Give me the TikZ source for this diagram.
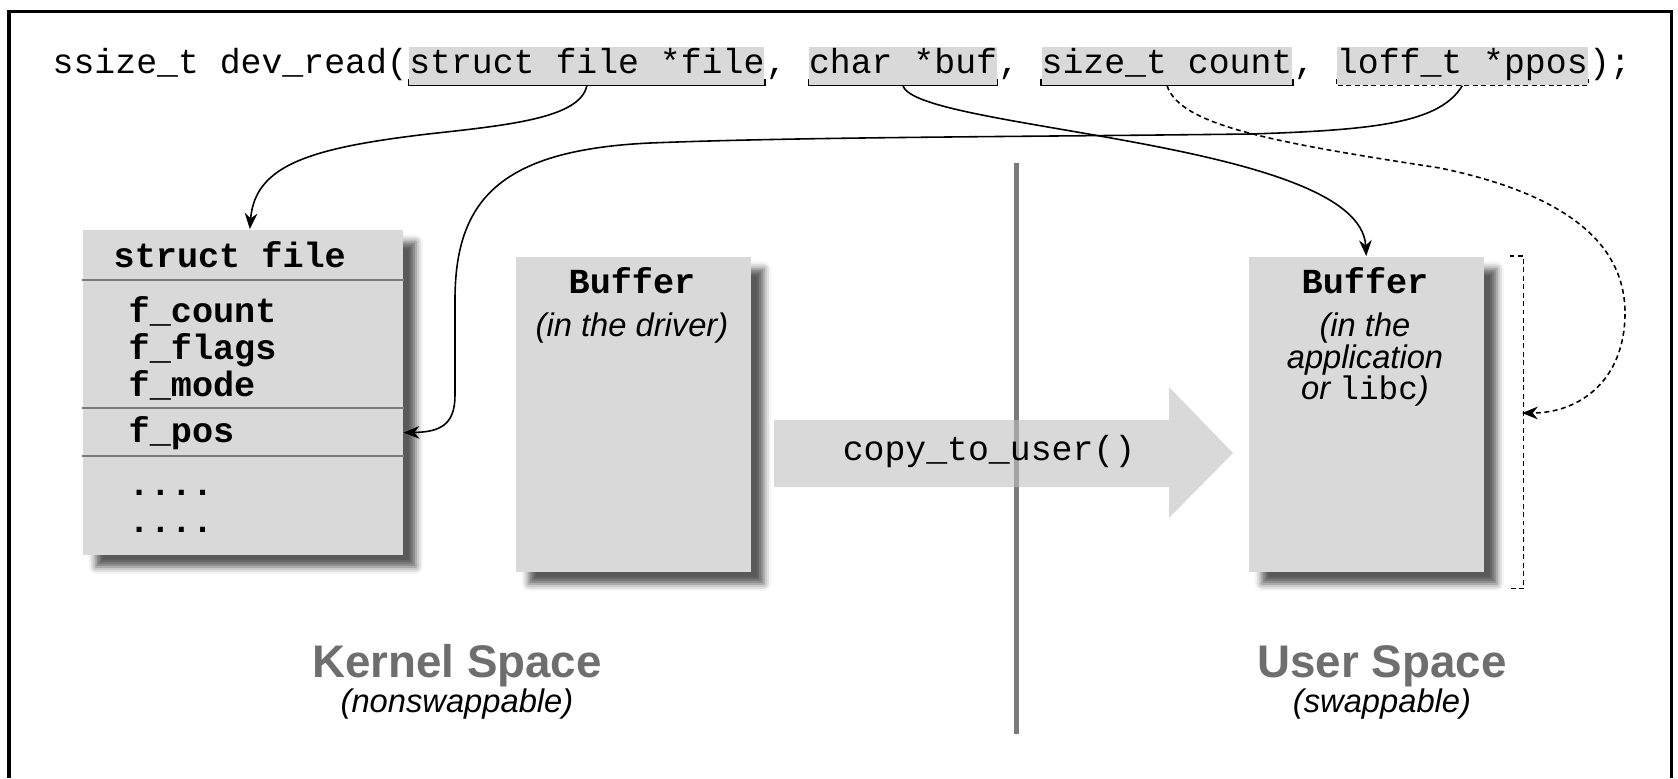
\documentclass[tikz,border=0pt]{standalone}
\usepackage{fontspec}
\setmainfont{Liberation Sans}
\setmonofont{Liberation Mono}
\usetikzlibrary{positioning, arrows.meta, shadows.blur}

\definecolor{boxgray}{RGB}{217,217,217}
\definecolor{linegray}{RGB}{122,122,122}
\definecolor{labelgray}{RGB}{110,110,110}
\definecolor{arrowgray}{RGB}{191,191,191}

\begin{document}
\begin{tikzpicture}[
    x=0.01cm, y=-0.01cm,
    code/.style={font=\fontsize{9.9}{12}\selectfont\ttfamily, inner sep=0pt},
    param/.style={code, fill=boxgray, text height=7.4pt, text depth=3.4pt},
    field/.style={font=\fontsize{10}{12}\selectfont\ttfamily\bfseries, inner sep=0pt},
    membox/.style={rectangle, fill=boxgray, inner sep=0pt,
      blur shadow={shadow xshift=0.13cm, shadow yshift=-0.12cm,
      shadow blur radius=0.07cm, shadow opacity=65}},
    bufnote/.style={font=\fontsize{9.3}{9}\selectfont\itshape, inner sep=0pt, align=center},
    spacelabel/.style={font=\fontsize{13}{15}\selectfont\bfseries, text=labelgray, inner sep=0pt},
    spacenote/.style={font=\fontsize{9.3}{11}\selectfont\itshape, inner sep=0pt},
    sepline/.style={draw=linegray, line width=0.027cm},
    tick/.style={line width=0.4pt},
    fine dash/.style={dash pattern=on 1.4pt off 1pt},
    arrow/.style={line width=0.45pt, -{Stealth[length=4.5pt, width=3.6pt]}}
]
\useasboundingbox (0,0) rectangle (1678,778);

% Frame
\draw[line width=0.03cm] (9,778) |- (1671,11) -- (1671,778);

% Signature line
\node[code, anchor=base west] (sig) at (52,73) {ssize\_t dev\_read(};
\node[param, base right=0pt of sig] (pfile) {struct file *file};
\node[code, base right=0pt of pfile] (c1) {,};
\node[param, base right=5.94pt of c1] (pbuf) {char *buf};
\node[code, base right=0pt of pbuf] (c2) {,};
\node[param, base right=5.94pt of c2] (pcount) {size\_t count};
\node[code, base right=0pt of pcount] (c3) {,};
\node[param, base right=5.94pt of c3] (pppos) {loff\_t *ppos};
\node[code, base right=0pt of pppos] (close) {);};

\foreach \p in {pfile, pbuf, pcount}
  \draw[tick] ([yshift=0.07cm]\p.south west) -- (\p.south west)
    -- (\p.south east) -- ([yshift=0.07cm]\p.south east);
\draw[tick, fine dash] ([yshift=0.07cm]pppos.south west) -- (pppos.south west)
    -- (pppos.south east) -- ([yshift=0.07cm]pppos.south east);

% Kernel / user divider and copy arrow
\draw[draw=linegray, line width=0.05cm] (1016,163) -- (1016,734);
\fill[arrowgray, fill opacity=0.6] (774,420) -- (1169,420) -- (1169,387) -- (1233,453)
    -- (1169,518) -- (1169,487) -- (774,487) -- cycle;
\node[code, anchor=base] (copylabel) at (989,460) {copy\_to\_user()};

% struct file
\node[membox, anchor=north west, minimum width=3.2cm, minimum height=3.25cm]
    (structbox) at (82,229) {};
\node[field, anchor=base west] (shead) at (113,267) {struct file};
\draw[sepline] ([yshift=-0.51cm]structbox.north west) -- ([yshift=-0.51cm]structbox.north east);
\draw[sepline] ([yshift=-1.79cm]structbox.north west) -- ([yshift=-1.79cm]structbox.north east);
\draw[sepline] ([yshift=-2.27cm]structbox.north west) -- ([yshift=-2.27cm]structbox.north east);
\foreach \fld [count=\i] in {f\_count, f\_flags, f\_mode}
  \node[field, anchor=base west] (fld\i) at (128, 285+37*\i) {\fld};
\node[field, anchor=base west] (fpos) at (128,442) {f\_pos};
\node[field, anchor=base west] (dots1) at (128,495) {....};
\node[field, anchor=base west] (dots2) at (128,532) {....};

% Buffers
\node[membox, anchor=north west, minimum width=2.35cm, minimum height=3.15cm]
    (drvbuf) at (515,256) {};
\node[field, anchor=base] (drvname) at (632,293) {Buffer};
\node[bufnote, anchor=base] (drvnote) at (632,336) {(in the driver)};

\node[membox, anchor=north west, minimum width=2.35cm, minimum height=3.15cm]
    (usrbuf) at (1248,256) {};
\node[field, anchor=base] (usrname) at (1365,293) {Buffer};
\node[bufnote, anchor=north] (usrnote) at (1365,312)
    {(in the\\application\\or {\ttfamily\upshape libc})};

\draw[tick, fine dash] ([xshift=0.25cm]usrbuf.north east)
    -| ([xshift=0.39cm, yshift=-0.16cm]usrbuf.south east) -- ++(-14,0);
\coordinate (brk) at (1522,413);

% Labels
\node[spacelabel, anchor=base] (kspace) at (457,677) {Kernel Space};
\node[spacenote, anchor=base] (knote) at (457,712) {(nonswappable)};
\node[spacelabel, anchor=base] (uspace) at (1382,677) {User Space};
\node[spacenote, anchor=base] (unote) at (1382,712) {(swappable)};

% Arrows
\draw[arrow] (pfile.south) .. controls (580,118) and (510,125) .. (428,134)
    .. controls (310,148) and (255,165) .. ([xshift=0.07cm]structbox.north);
\draw[arrow] (pbuf.south) .. controls (915,130) and (1360,140) .. (usrbuf.north);
\draw[arrow, fine dash] (pcount.south) .. controls (1180,125) and (1270,142) .. (1440,168)
    .. controls (1560,193) and (1625,240) .. (1625,313)
    .. controls (1625,380) and (1580,413) .. (brk);
\draw[arrow] (pppos.south) .. controls (1440,122) and (1380,130) .. (1250,134)
    .. controls (1000,137) and (800,137) .. (650,143)
    .. controls (500,150) and (455,200) .. (455,300) -- (455,395)
    .. controls (455,425) and (440,432) .. (structbox.east |- fpos);

\end{tikzpicture}
\end{document}
